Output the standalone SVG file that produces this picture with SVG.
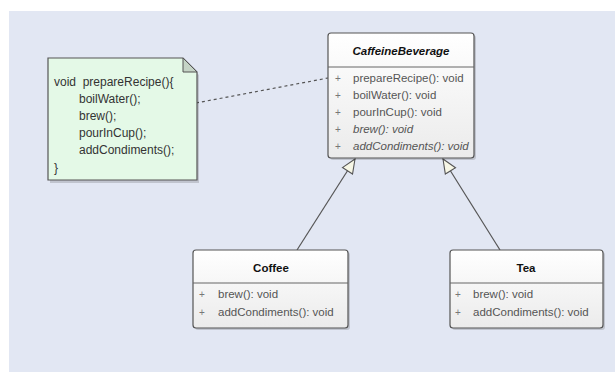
<svg xmlns="http://www.w3.org/2000/svg" width="615" height="372" viewBox="0 0 615 372">
<defs>
<style>
.t{font-family:"Liberation Sans",Arial,sans-serif;}
.title{font-size:11.5px;font-weight:bold;fill:#111;text-anchor:middle;}
.mem{font-size:11.5px;fill:#555;}
.pl{font-size:10px;fill:#777;}
.it{font-style:italic;}
.note{font-size:12px;fill:#333;}
.box{fill:url(#g);stroke:#555;stroke-width:1.2;}
.sh{fill:#000;opacity:0.15;}
.sep{stroke:#666;stroke-width:1;}
.edge{stroke:#555;stroke-width:1.2;fill:none;}
</style>
<linearGradient id="g" x1="0" y1="0" x2="0" y2="1">
<stop offset="0" stop-color="#ffffff"/>
<stop offset="1" stop-color="#ebebeb"/>
</linearGradient>
<marker id="tri" viewBox="0 0 16 14" refX="15" refY="7" markerWidth="16" markerHeight="14" markerUnits="userSpaceOnUse" orient="auto">
<path d="M1,1 L15,7 L1,13 Z" fill="#f7f7e6" stroke="#555" stroke-width="1.1"/>
</marker>
</defs>
<rect x="0" y="0" width="615" height="372" fill="#ffffff"/>
<rect x="9" y="11" width="606" height="361" fill="#e2e7f3"/>

<g id="connectors">
<path class="edge" d="M196,103 L328,78" stroke-dasharray="3,3"/>
<path class="edge" d="M297,250 L355,159" marker-end="url(#tri)"/>
<path class="edge" d="M500,250 L443,159" marker-end="url(#tri)"/>
</g>

<g id="note">
<path class="sh" d="M50,61 H185 L199,75 V183 H50 Z"/>
<path d="M48,58 H183 L197,72 V180 H48 Z" fill="#e4f9e7" stroke="#555" stroke-width="1.2"/>
<path d="M183,58 L183,72 L197,72 Z" fill="#c5d4c6" stroke="#555" stroke-width="1"/>
<text class="t note" x="54" y="86" xml:space="preserve">void  prepareRecipe(){</text>
<text class="t note" x="79" y="103">boilWater();</text>
<text class="t note" x="79" y="120">brew();</text>
<text class="t note" x="79" y="137">pourInCup();</text>
<text class="t note" x="79" y="154">addCondiments();</text>
<text class="t note" x="54" y="172">}</text>
</g>

<g id="CaffeineBeverage">
<rect class="sh" x="330" y="35" width="146" height="125" rx="3"/>
<rect class="box" x="328" y="33" width="146" height="125" rx="3"/>
<line class="sep" x1="328" y1="67" x2="474" y2="67"/>
<text class="t title it" x="401" y="55">CaffeineBeverage</text>
<text class="t pl" x="335" y="82">+</text>
<text class="t mem" x="353" y="82">prepareRecipe(): void</text>
<text class="t pl" x="335" y="99">+</text>
<text class="t mem" x="353" y="99">boilWater(): void</text>
<text class="t pl" x="335" y="116">+</text>
<text class="t mem" x="353" y="116">pourInCup(): void</text>
<text class="t pl" x="335" y="133">+</text>
<text class="t mem it" x="353" y="133">brew(): void</text>
<text class="t pl" x="335" y="150">+</text>
<text class="t mem it" x="353" y="150">addCondiments(): void</text>
</g>

<g id="Coffee">
<rect class="sh" x="195" y="252" width="155" height="78" rx="3"/>
<rect class="box" x="193" y="250" width="155" height="78" rx="3"/>
<line class="sep" x1="193" y1="283" x2="348" y2="283"/>
<text class="t title" x="271" y="272">Coffee</text>
<text class="t pl" x="199" y="298">+</text>
<text class="t mem" x="218" y="298">brew(): void</text>
<text class="t pl" x="199" y="316">+</text>
<text class="t mem" x="218" y="316">addCondiments(): void</text>
</g>

<g id="Tea">
<rect class="sh" x="452" y="252" width="153" height="78" rx="3"/>
<rect class="box" x="450" y="250" width="153" height="78" rx="3"/>
<line class="sep" x1="450" y1="283" x2="603" y2="283"/>
<text class="t title" x="526" y="272">Tea</text>
<text class="t pl" x="455" y="298">+</text>
<text class="t mem" x="473" y="298">brew(): void</text>
<text class="t pl" x="455" y="316">+</text>
<text class="t mem" x="473" y="316">addCondiments(): void</text>
</g>
</svg>
